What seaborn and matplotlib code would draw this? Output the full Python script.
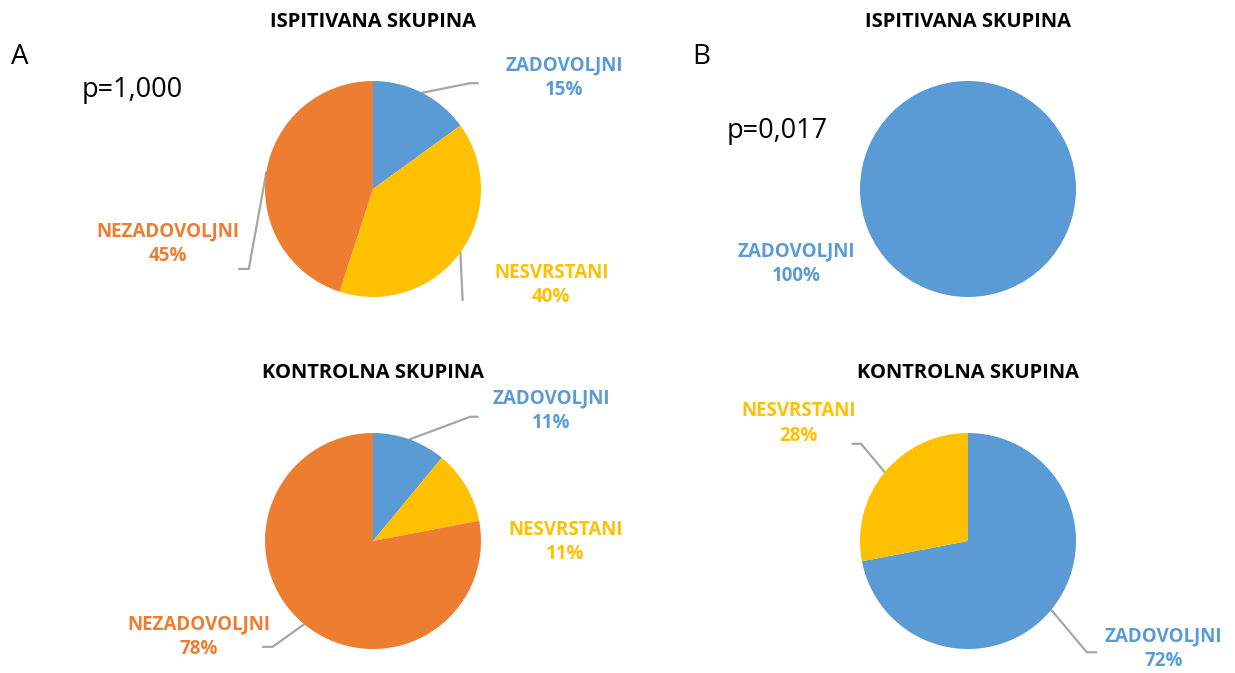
import numpy as np
import matplotlib
matplotlib.use("Agg")
import matplotlib.pyplot as plt
import seaborn as sns

# Data
categories = ["ZADOVOLJNI", "NESVRSTANI", "NEZADOVOLJNI"]
a_ispitivana = [15, 40, 45]
a_kontrolna = [11, 11, 78]
b_ispitivana = [100, 0, 0]
b_kontrolna = [72, 28, 0]
group_titles = ["ISPITIVANA SKUPINA", "KONTROLNA SKUPINA"]
p_values = ["p=1,000", "p=0,017"]
panel_letters = ["A", "B"]

sns.set_theme(style="white")
plt.rcParams['font.family'] = ['Open Sans', 'DejaVu Sans']

palette = dict(zip(categories, sns.color_palette(["#5B9BD5", "#FFC000", "#ED7D31"])))
line_color = "#A6A6A6"

W, H = 1235, 673
fig = plt.figure(figsize=(W / 100, H / 100), dpi=100)
fig.patch.set_facecolor("white")

R = 108  # pie radius in pixels

# label placement per pie: category -> (label x, label y, elbow x, elbow y, tail) in pie-radius units
pies = [
    (a_ispitivana, (373, 189), {
        "ZADOVOLJNI": (1.77, 1.03, 0.90, 0.98, 0.07),
        "NESVRSTANI": (1.65, -0.89, 0.83, -1.03, 0.0),
        "NEZADOVOLJNI": (-1.90, -0.51, -1.15, -0.74, -0.09),
    }),
    (a_kontrolna, (373, 541), {
        "ZADOVOLJNI": (1.65, 1.21, 0.90, 1.15, 0.07),
        "NESVRSTANI": (1.78, -0.01, None, None, 0),
        "NEZADOVOLJNI": (-1.61, -0.89, -0.93, -0.98, -0.09),
    }),
    (b_ispitivana, (968, 189), {
        "ZADOVOLJNI": (-1.59, -0.69, None, None, 0),
    }),
    (b_kontrolna, (968, 541), {
        "NESVRSTANI": (-1.57, 1.09, -0.99, 0.90, -0.08),
        "ZADOVOLJNI": (1.81, -1.00, 1.10, -1.03, 0.09),
    }),
]

for values, (cx, cy), layout in pies:
    ax = fig.add_axes([(cx - R) / W, 1 - (cy + R) / H, 2 * R / W, 2 * R / H])
    cats = [c for c, v in zip(categories, values) if v > 0]
    vals = [v for v in values if v > 0]
    wedges, _ = ax.pie(vals, colors=[palette[c] for c in cats], startangle=90,
                       counterclock=False, wedgeprops=dict(linewidth=0))
    ax.set_xlim(-1, 1)
    ax.set_ylim(-1, 1)
    ax.set_aspect("equal")
    ax.axis("off")
    for w, c, v in zip(wedges, cats, vals):
        lx, ly, ex, ey, tail = layout[c]
        ax.text(lx, ly, f"{c}\n{v}%", color=palette[c], fontsize=13.5, fontweight="bold",
                ha="center", va="center", linespacing=1.3, clip_on=False)
        if ex is not None:
            mid = np.deg2rad((w.theta1 + w.theta2) / 2)
            xs = [np.cos(mid), ex, ex + tail]
            ys = [np.sin(mid), ey, ey]
            ax.plot(xs, ys, color=line_color, lw=1.6, clip_on=False, zorder=0)

# titles
for col_x in [373, 968]:
    fig.text(col_x / W, 1 - 22 / H, group_titles[0], ha="center", va="center",
             fontsize=14.5, fontweight="bold", color="black")
    fig.text(col_x / W, 1 - 373 / H, group_titles[1], ha="center", va="center",
             fontsize=14.5, fontweight="bold", color="black")

fig.text(11 / W, 1 - 57 / H, panel_letters[0], fontsize=20, ha="left", va="center", color="black")
fig.text(692 / W, 1 - 57 / H, panel_letters[1], fontsize=20, ha="left", va="center", color="black")
fig.text(82 / W, 1 - 90 / H, p_values[0], fontsize=19.5, ha="left", va="center", color="black")
fig.text(727 / W, 1 - 131 / H, p_values[1], fontsize=19.5, ha="left", va="center", color="black")

plt.savefig("out.png", dpi=100, facecolor="white")
